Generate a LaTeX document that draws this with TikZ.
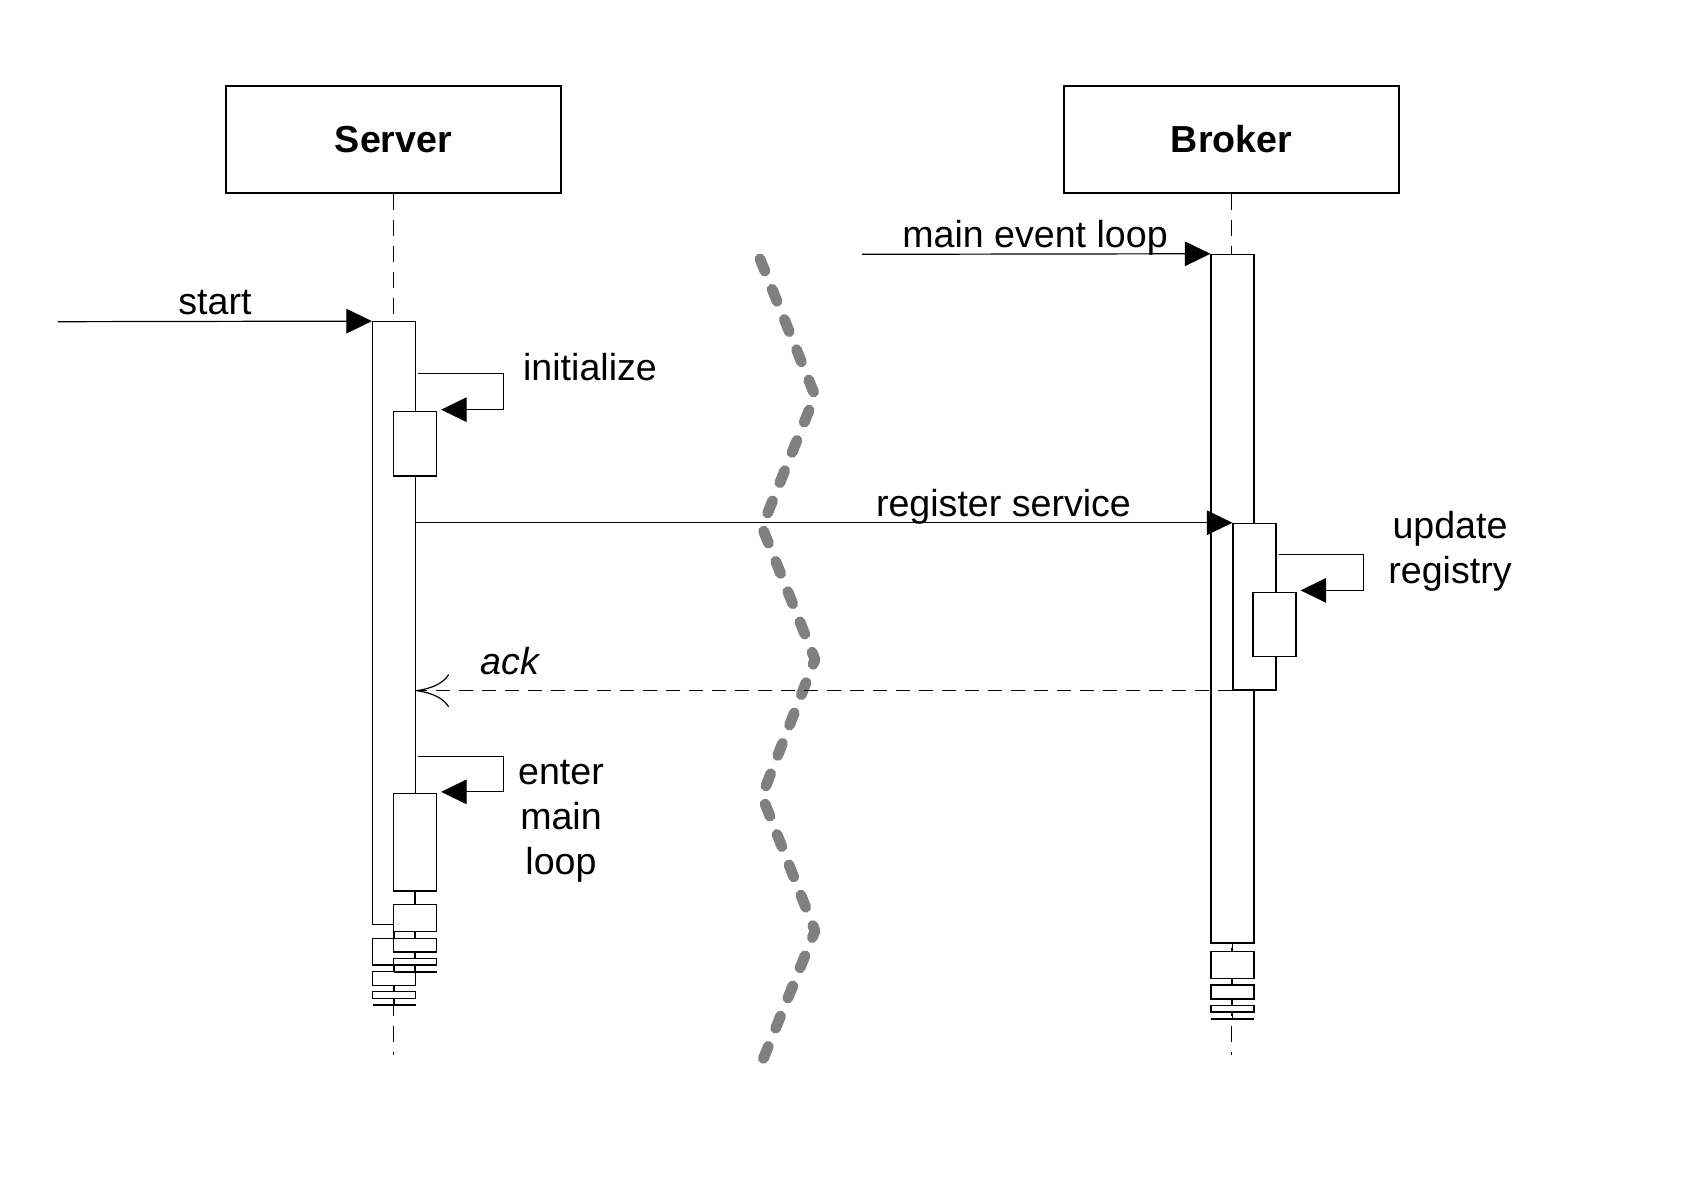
\documentclass[tikz,border=0pt]{standalone}
\usepackage{fontspec}
\setmainfont{Liberation Sans}
\usetikzlibrary{arrows.meta,calc}

\begin{document}
\begin{tikzpicture}[x=0.5pt,y=-0.5pt,
  every node/.style={font=\fontsize{18.8}{22.6}\selectfont},
  obj/.style={draw,line width=0.6pt,minimum width=167.5pt,minimum height=53.5pt,font=\fontsize{18.8}{22.6}\selectfont\bfseries},
  act/.style={draw,fill=white,line width=0.6pt,minimum width=21.5pt,inner sep=0pt},
  fade/.style={draw,fill=white,line width=0.6pt},
  life/.style={line width=0.6pt,dash pattern=on 8pt off 5pt},
  call/.style={line width=0.6pt,-{Triangle[length=12.8pt,width=12.3pt]}},
  reply/.style={line width=0.6pt,dash pattern=on 7pt off 4.5pt,-{Computer Modern Rightarrow[length=16.5pt,width=16.5pt]}},
  wave/.style={color=gray,line width=5.4pt,line cap=round,line join=round,dash pattern=on 6.5pt off 9.8pt}]
\useasboundingbox (0,0) rectangle (1686,1194);

\draw[wave] (760,259) -- (815,395.5) -- (762,527) -- (815,659.5) -- (762,796) -- (815,931) -- (762,1062);

\node[obj] (server) at (393.5,139.5) {Server};
\node[obj] (broker) at (1231.5,139.5) {Broker};
\coordinate (srvend) at (393.5,1055);
\coordinate (brkend) at (1231.5,1055);
\draw[life] (server) -- (srvend);
\draw[life] (broker) -- (brkend);

\node[act,minimum height=301.3pt] (srvact) at (394,623) {};
\node[act,minimum height=32.15pt] (initact) at (415,443.8) {};
\node[act,minimum height=48.75pt] (loopact) at (415,842.2) {};
\node[act,minimum height=344.35pt] (brkact) at (1232.5,598.7) {};
\node[act,minimum height=83.35pt] (regact) at (1254.5,606.7) {};
\node[act,minimum height=32pt] (updact) at (1274.5,624.7) {};

\draw[line width=0.6pt] (394,924.3) -- (394,938.3);
\draw[fade] (372.5,938.3) rectangle (415.5,965);
\draw[line width=0.6pt] (394,965) -- (394,971.7);
\draw[fade] (372.5,971.7) rectangle (415.5,985.7);
\draw[line width=0.6pt] (394,985.7) -- (394,991.7);
\draw[fade] (372.5,991.7) rectangle (415.5,998.3);
\draw[line width=0.6pt] (394,998.3) -- (394,1005);
\draw[line width=1pt] (372.5,1005) -- (415.5,1005);

\draw[line width=0.6pt] (415,891) -- (415,904.3);
\draw[fade] (393.5,904.3) rectangle (436.5,931.7);
\draw[line width=0.6pt] (415,931.7) -- (415,938.3);
\draw[fade] (393.5,938.3) rectangle (436.5,952);
\draw[line width=0.6pt] (415,952) -- (415,958.3);
\draw[fade] (393.5,958.3) rectangle (436.5,965);
\draw[line width=0.6pt] (415,965) -- (415,971.7);
\draw[line width=1pt] (393.5,971.7) -- (436.5,971.7);

\draw[line width=0.6pt] (1232.5,943) -- (1232.5,951.7);
\draw[fade] (1211,951.7) rectangle (1254,978.3);
\draw[line width=0.6pt] (1232.5,978.3) -- (1232.5,985);
\draw[fade] (1211,985) rectangle (1254,999);
\draw[line width=0.6pt] (1232.5,999) -- (1232.5,1005.7);
\draw[fade] (1211,1005.7) rectangle (1254,1012);
\draw[line width=0.6pt] (1232.5,1012) -- (1232.5,1018.7);
\draw[line width=1pt] (1211,1018.7) -- (1254,1018.7);

\coordinate (startpt) at (58,321.7);
\draw[call] (startpt) -- (srvact.north west);
\node[anchor=base] (startlbl) at (215,314) {start};

\coordinate (eventpt) at (862,254.3);
\draw[call] (eventpt) -- (brkact.north west);
\node[anchor=base] (eventlbl) at (1035,247) {main event loop};

\draw[call] ($(srvact.east |- initact.north)+(2,-37.4)$) -- ++(85,0) |- ($(initact.north east)+(4,-1.4)$);
\node[anchor=base] (initlbl) at (590,380) {initialize};

\draw[call] (srvact.east |- regact.north west) -- (regact.north west);
\node[anchor=base] (reglbl) at (1003.5,516) {register service};

\draw[call] ($(regact.east |- updact.north)+(2,-37.4)$) -- ++(85,0) |- ($(updact.north east)+(4,-1.7)$);
\node[align=center] (updlbl) at (1450,551) {update\\registry};

\draw[reply] (regact.south west) -- (srvact.east |- regact.south west);
\node[anchor=base,font=\fontsize{18.8}{22.6}\selectfont\itshape] (acklbl) at (510,674) {ack};

\draw[call] ($(srvact.east |- loopact.north)+(2,-36.5)$) -- ++(85,0) |- ($(loopact.north east)+(4,-1)$);
\node[align=center] (looplbl) at (561,821) {enter\\main\\loop};
\end{tikzpicture}
\end{document}
